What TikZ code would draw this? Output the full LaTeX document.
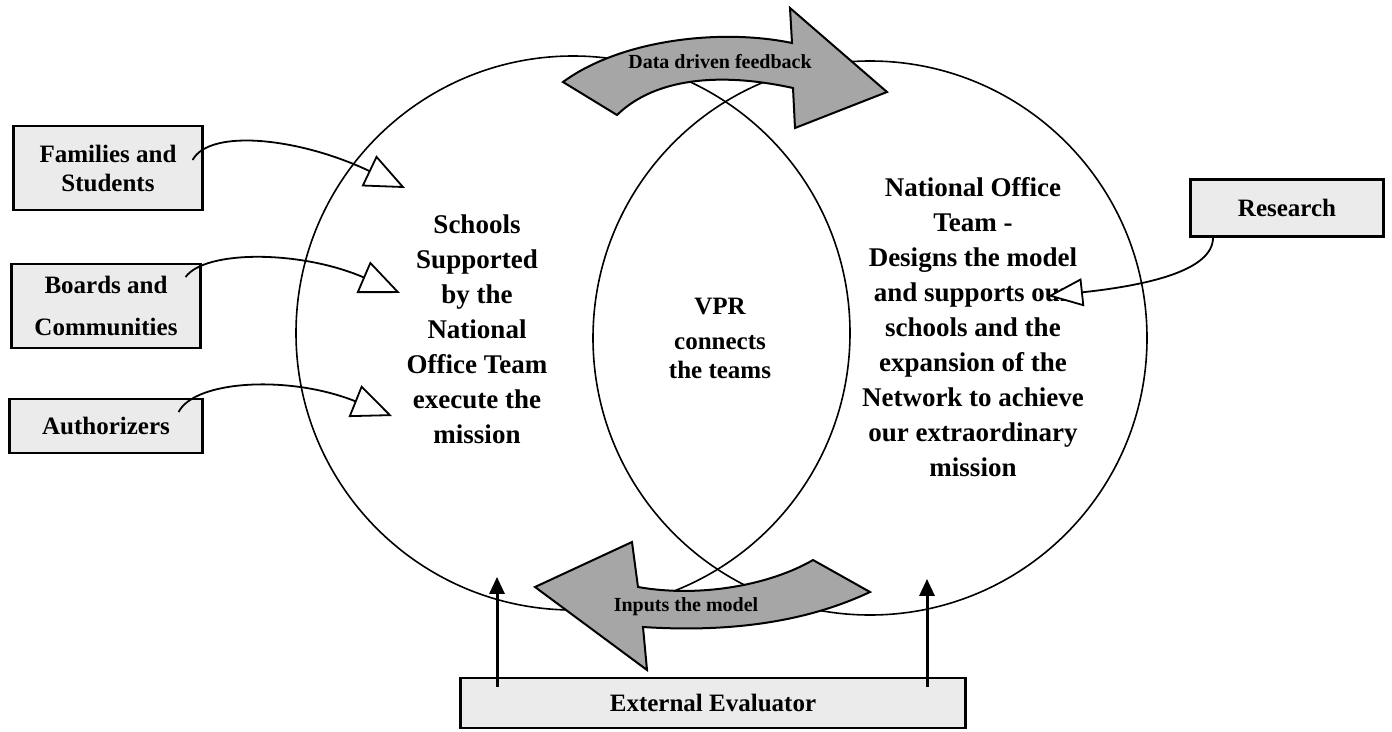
\documentclass[tikz,border=0pt]{standalone}
\usepackage{fontspec}
\setmainfont{Liberation Serif}
\usetikzlibrary{arrows.meta}
\begin{document}
\begin{tikzpicture}[x=1pt,y=-1pt]
    \tikzset {
        bubble/.style = {draw, circle, line width=1.6pt, minimum size=554pt, inner sep=0pt},
        label/.style = {align=center, inner sep=0pt, font=\fontsize{27}{35}\selectfont\bfseries},
        box/.style = {draw, line width=2.2pt, fill=black!8, align=center, inner sep=0pt,
            font=\fontsize{25}{29}\selectfont\bfseries},
        band/.style = {draw, line width=2pt, fill=black!35},
        bandtext/.style = {inner sep=0pt, font=\fontsize{20}{20}\selectfont\bfseries},
        feed/.style = {line width=1.8pt, -{Triangle[length=40pt, width=34pt, fill=white]}},
        lift/.style = {line width=3pt, -{Triangle[length=17pt, width=15pt]}}
    }
    \useasboundingbox (0,0) rectangle (1392,731);
    \node[bubble] (schools) at (573,333) {};
    \node[bubble] (office) at (870,338) {};
    \node[label] (schoolstext) at (477,329) {Schools\\Supported\\by the\\National\\Office Team\\execute the\\mission};
    \node[label] (officetext) at (973,327) {National Office\\Team -\\Designs the model\\and supports our\\schools and the\\expansion of the\\Network to achieve\\our extraordinary\\mission};
    \node[label, font=\fontsize{25}{29}\selectfont\bfseries] (vpr) at (720,338) {VPR\\[6pt]connects\\the teams};
    \node[box, minimum width=189pt, minimum height=84pt] (families) at (108,168) {Families and\\Students};
    \node[box, minimum width=189pt, minimum height=84pt] (boards) at (106,306) {Boards and\\[13pt]Communities};
    \node[box, minimum width=193pt, minimum height=54pt] (authorizers) at (106,426) {Authorizers};
    \node[box, minimum width=193pt, minimum height=57pt] (research) at (1287,208) {Research};
    \node[box, minimum width=505pt, minimum height=50pt] (evaluator) at (713,703) {External Evaluator};
    \coordinate (familiestip) at (405,188);
    \coordinate (boardstip) at (400,293);
    \coordinate (authorizerstip) at (392,416);
    \coordinate (researchtip) at (1048,296);
    \draw[feed] ([xshift=-11pt,yshift=8pt]families.east) .. controls (210,128) and (300,138) .. (familiestip);
    \draw[feed] ([xshift=-16pt,yshift=29pt]boards.east) .. controls (205,250) and (300,250) .. (boardstip);
    \draw[feed] ([xshift=-25pt,yshift=14pt]authorizers.east) .. controls (195,380) and (290,375) .. (authorizerstip);
    \draw[feed, -{Triangle[length=35pt, width=28pt, fill=white]}] ([xshift=-74pt]research.south) .. controls (1213,270) and (1150,285) .. (researchtip);
    \draw[lift] ([xshift=-216pt,yshift=-10pt]evaluator.north) -- ++(0,-110);
    \draw[lift] ([xshift=214pt,yshift=-10pt]evaluator.north) -- ++(0,-108);
    \filldraw[band] (563,82) .. controls (620,40) and (720,28) .. (792,43) -- (790,8) -- (887,92) -- (795,128)
        -- (793,88) .. controls (720,72) and (655,78) .. (617,115) -- cycle;
    \node[bandtext] (feedback) at (720,62) {Data driven feedback};
    \filldraw[band] (535,587) -- (632,542) -- (638,587) .. controls (700,598) and (770,585) .. (813,560)
        -- (870,592) .. controls (800,625) and (720,632) .. (643,627) -- (647,670) -- cycle;
    \node[bandtext] (inputs) at (686,607) {Inputs the model};
\end{tikzpicture}
\end{document}
